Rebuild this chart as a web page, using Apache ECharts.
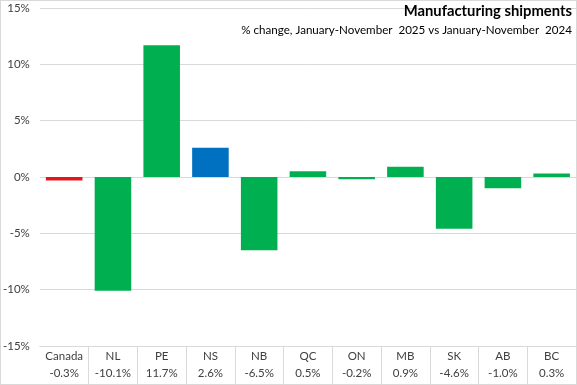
<!DOCTYPE html>
<html><head><meta charset="utf-8">
<script src="https://cdn.jsdelivr.net/npm/echarts@6/dist/echarts.min.js"></script>
<style>
html,body{margin:0;padding:0;background:#fff;}
#wrap{position:relative;width:577px;height:385px;}
#chart{position:absolute;left:0;top:0;width:577px;height:385px;}
#border{position:absolute;left:0;top:0;width:577px;height:385px;box-sizing:border-box;border:1px solid #d9d9d9;pointer-events:none;}
</style></head>
<body>
<div id="wrap"><div id="chart"></div><div id="border"></div></div>
<script>
const categories = ['Canada','NL','PE','NS','NB','QC','ON','MB','SK','AB','BC'];
const values = [-0.3,-10.1,11.7,2.6,-6.5,0.5,-0.2,0.9,-4.6,-1.0,0.3];
const valueLabels = ['-0.3%','-10.1%','11.7%','2.6%','-6.5%','0.5%','-0.2%','0.9%','-4.6%','-1.0%','0.3%'];
const barColors = ['#e3161e','#00b050','#00b050','#0070c0','#00b050','#00b050','#00b050','#00b050','#00b050','#00b050','#00b050'];
const yTicks = {min:-15, max:15, interval:5};
const titleText = 'Manufacturing shipments';
const subText = '% change, January-November  2025 vs January-November  2024';

const chart = echarts.init(document.getElementById('chart'), null, {renderer:'canvas'});
const font = 'Lato, "Liberation Sans", sans-serif';
chart.setOption({
  animation:false,
  textStyle:{fontFamily:font},
  title:[{
    text:titleText, right:5, top:4, padding:0,
    textStyle:{fontSize:14.8, fontWeight:'bold', color:'#000', fontFamily:font}
  },{
    text:subText, right:5, top:24, padding:0,
    textStyle:{fontSize:11.6, fontWeight:'normal', color:'#000', fontFamily:font}
  }],
  grid:{left:37, right:1, top:8, bottom:39, containLabel:false},
  xAxis:{
    type:'category', data:categories,
    axisLine:{show:true, onZero:false, lineStyle:{color:'#d9d9d9'}},
    axisTick:{show:true, length:38, interval:(i)=> i !== 0, lineStyle:{color:'#d9d9d9'}},
    axisLabel:{interval:0, margin:2, lineHeight:17, fontSize:11.5, color:'#404040',
      formatter:(v,i)=> v + '\n' + valueLabels[i]}
  },
  yAxis:{
    type:'value', min:yTicks.min, max:yTicks.max, interval:yTicks.interval,
    axisLine:{show:false}, axisTick:{show:false},
    splitLine:{lineStyle:{color:'#d9d9d9'}},
    axisLabel:{margin:10, fontSize:11.5, color:'#404040', formatter:v=>v+'%'}
  },
  series:[{
    type:'bar', barWidth:'75%',
    data: values.map((v,i)=>({value:v, itemStyle:{color:barColors[i]}}))
  }]
});
</script>
</body></html>
